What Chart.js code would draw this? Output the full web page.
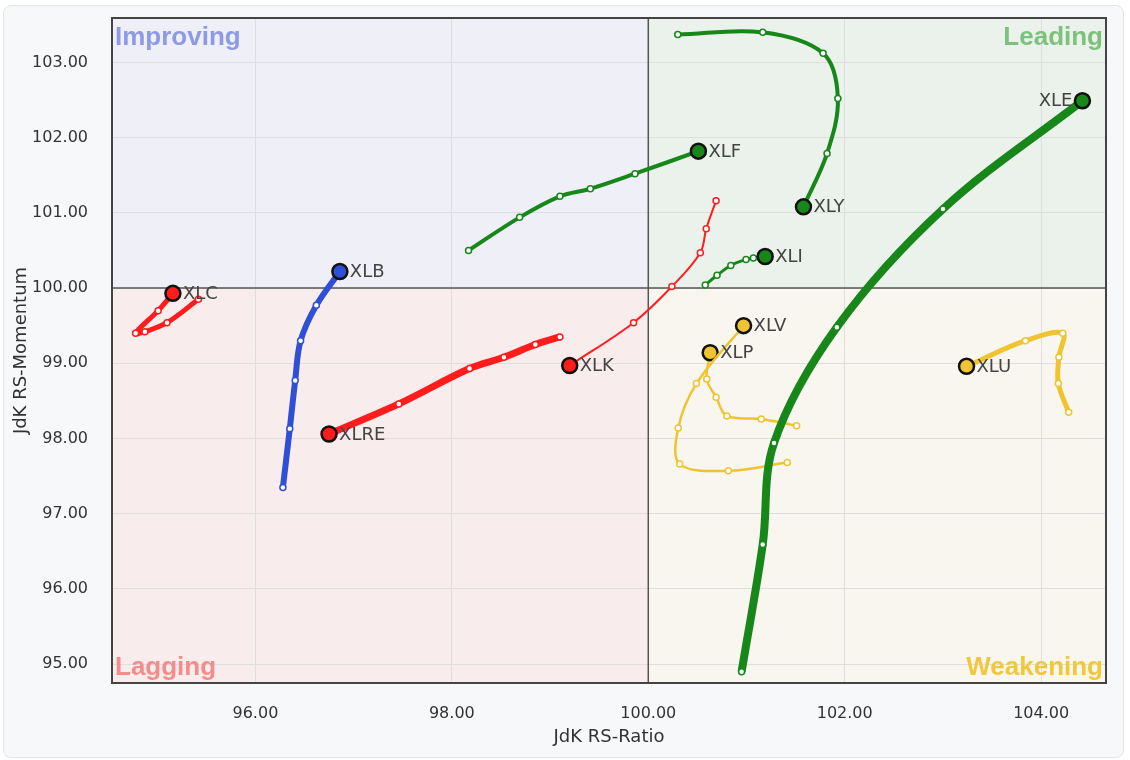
<!DOCTYPE html>
<html><head><meta charset="utf-8">
<script src="https://cdn.jsdelivr.net/npm/chart.js@4.4.0/dist/chart.umd.min.js"></script>
<style>
html,body{margin:0;padding:0;background:#fff;width:1130px;height:760px;overflow:hidden;}
#panel{position:absolute;left:3px;top:5px;width:1119px;height:751px;background:#f7f8fa;border:1px solid #e2e4e8;border-radius:8px;}
#wrap{position:absolute;left:0;top:0;width:1130px;height:760px;}
</style></head><body>
<div id="panel"></div>
<div id="wrap"><canvas id="c" width="1130" height="760"></canvas></div>
<script>
// ---- data (oldest -> newest, last point is the head) ----
const symbols = ['XLE','XLY','XLF','XLI','XLK','XLRE','XLB','XLC','XLV','XLP','XLU'];
const XLE_ratio    = [100.95, 101.165, 101.28, 101.92, 103.00, 104.42];
const XLE_momentum = [94.90, 96.59, 97.94, 99.48, 101.05, 102.49];
const XLY_ratio    = [100.30, 101.165, 101.78, 101.93, 101.82, 101.58];
const XLY_momentum = [103.37, 103.40, 103.12, 102.52, 101.79, 101.08];
const XLF_ratio    = [98.17, 98.69, 99.10, 99.41, 99.865, 100.51];
const XLF_momentum = [100.50, 100.94, 101.22, 101.32, 101.52, 101.82];
const XLI_ratio    = [100.58, 100.70, 100.84, 100.995, 101.07, 101.19];
const XLI_momentum = [100.04, 100.17, 100.30, 100.38, 100.40, 100.42];
const XLK_ratio    = [100.69, 100.59, 100.53, 100.24, 99.85, 99.20];
const XLK_momentum = [101.16, 100.79, 100.47, 100.02, 99.54, 98.97];
const XLRE_ratio   = [99.10, 98.85, 98.53, 98.18, 97.46, 96.75];
const XLRE_momentum= [99.35, 99.25, 99.08, 98.93, 98.46, 98.06];
const XLB_ratio    = [96.28, 96.35, 96.405, 96.46, 96.62, 96.86];
const XLB_momentum = [97.35, 98.13, 98.77, 99.30, 99.77, 100.22];
const XLC_ratio    = [95.42, 95.10, 94.875, 94.78, 95.01, 95.16];
const XLC_momentum = [99.85, 99.54, 99.42, 99.40, 99.70, 99.93];
const XLV_ratio    = [101.415, 100.815, 100.32, 100.305, 100.49, 100.97];
const XLV_momentum = [97.68, 97.57, 97.66, 98.14, 98.73, 99.50];
const XLP_ratio    = [101.51, 101.15, 100.80, 100.69, 100.595, 100.63];
const XLP_momentum = [98.17, 98.26, 98.30, 98.55, 98.79, 99.14];
const XLU_ratio    = [104.28, 104.175, 104.18, 104.22, 103.84, 103.24];
const XLU_momentum = [98.35, 98.73, 99.08, 99.40, 99.30, 98.96];
const tickX = [96, 98, 100, 102, 104];
const tickY = [95, 96, 97, 98, 99, 100, 101, 102, 103];
const quadrantNames = ['Improving', 'Leading', 'Lagging', 'Weakening'];

const series = {
  XLE:[XLE_ratio,XLE_momentum], XLY:[XLY_ratio,XLY_momentum], XLF:[XLF_ratio,XLF_momentum],
  XLI:[XLI_ratio,XLI_momentum], XLK:[XLK_ratio,XLK_momentum], XLRE:[XLRE_ratio,XLRE_momentum],
  XLB:[XLB_ratio,XLB_momentum], XLC:[XLC_ratio,XLC_momentum], XLV:[XLV_ratio,XLV_momentum],
  XLP:[XLP_ratio,XLP_momentum], XLU:[XLU_ratio,XLU_momentum]
};

// ---- styles ----
const GREEN='#17871a', RED='#ff1c1c', BLUE='#2f4fd6', YELLOW='#f0c431';
const style = {
  XLE:{c:GREEN,w:8}, XLY:{c:GREEN,w:4}, XLF:{c:GREEN,w:4}, XLI:{c:GREEN,w:3},
  XLK:{c:RED,w:2}, XLRE:{c:RED,w:7}, XLB:{c:BLUE,w:6}, XLC:{c:RED,w:5},
  XLV:{c:YELLOW,w:2.5}, XLP:{c:YELLOW,w:2.5}, XLU:{c:YELLOW,w:5}
};
const labelLeft = {XLE:true};
const FONT = '"DejaVu Sans", Verdana, sans-serif';
const QFONT = '"Liberation Sans", Arial, sans-serif';

const datasets = symbols.map(s => {
  const [rx, my] = series[s];
  const n = rx.length;
  const st = style[s];
  return {
    label: s,
    data: rx.map((x,i)=>({x:x, y:my[i]})),
    showLine: true,
    borderColor: st.c,
    borderWidth: st.w,
    tension: 0.35,
    pointRadius: rx.map((_,i)=> i===n-1 ? 7.5 : 3),
    pointBackgroundColor: rx.map((_,i)=> i===n-1 ? st.c : '#ffffff'),
    pointBorderColor: rx.map((_,i)=> i===n-1 ? '#111111' : st.c),
    pointBorderWidth: rx.map((_,i)=> i===n-1 ? 2.5 : 1.5),
    clip: false
  };
});

const quadPlugin = {
  id:'quad',
  beforeDraw(chart){
    const {ctx, chartArea:a, scales:{x,y}} = chart;
    const cx = x.getPixelForValue(100), cy = y.getPixelForValue(100);
    ctx.save();
    ctx.fillStyle='#eeeff7'; ctx.fillRect(a.left,a.top,cx-a.left,cy-a.top);
    ctx.fillStyle='#ebf2eb'; ctx.fillRect(cx,a.top,a.right-cx,cy-a.top);
    ctx.fillStyle='#f8ecec'; ctx.fillRect(a.left,cy,cx-a.left,a.bottom-cy);
    ctx.fillStyle='#f8f6ee'; ctx.fillRect(cx,cy,a.right-cx,a.bottom-cy);
    ctx.restore();
  },
  beforeDatasetsDraw(chart){
    const {ctx, chartArea:a, scales:{x,y}} = chart;
    const cx = x.getPixelForValue(100), cy = y.getPixelForValue(100);
    ctx.save();
    ctx.strokeStyle='#555'; ctx.lineWidth=1.5;
    ctx.beginPath(); ctx.moveTo(cx,a.top); ctx.lineTo(cx,a.bottom);
    ctx.moveTo(a.left,cy); ctx.lineTo(a.right,cy); ctx.stroke();
    ctx.strokeStyle='#444'; ctx.lineWidth=2;
    ctx.strokeRect(a.left,a.top,a.right-a.left,a.bottom-a.top);
    ctx.font='bold 26px ' + QFONT;
    ctx.textBaseline='alphabetic';
    ctx.fillStyle='#8e9ae8'; ctx.textAlign='left'; ctx.fillText(quadrantNames[0], a.left+3, a.top+27);
    ctx.fillStyle='#7cc27c'; ctx.textAlign='right'; ctx.fillText(quadrantNames[1], a.right-3, a.top+27);
    ctx.fillStyle='#f48c8c'; ctx.textAlign='left'; ctx.fillText(quadrantNames[2], a.left+3, a.bottom-8);
    ctx.fillStyle='#f0c83c'; ctx.textAlign='right'; ctx.fillText(quadrantNames[3], a.right-3, a.bottom-8);
    ctx.restore();
  },
  afterDatasetsDraw(chart){
    const {ctx} = chart;
    ctx.save();
    ctx.font='18px ' + FONT;
    ctx.fillStyle='#444';
    ctx.textBaseline='middle';
    chart.data.datasets.forEach((ds,i)=>{
      const meta = chart.getDatasetMeta(i);
      const p = meta.data[meta.data.length-1];
      if(labelLeft[ds.label]){ ctx.textAlign='right'; ctx.fillText(ds.label, p.x-10, p.y+1); }
      else { ctx.textAlign='left'; ctx.fillText(ds.label, p.x+10, p.y+1); }
    });
    ctx.restore();
  }
};

const tickFont = {family:FONT, size:16};
new Chart(document.getElementById('c'), {
  type:'scatter',
  data:{datasets},
  plugins:[quadPlugin],
  options:{
    responsive:false, animation:false,
    layout:{padding:{top:18,right:24,left:0,bottom:0}},
    plugins:{legend:{display:false}, tooltip:{enabled:false}},
    scales:{
      x:{
        type:'linear', min:94.54, max:104.66,
        afterBuildTicks:s=>{ s.ticks = tickX.map(v=>({value:v})); },
        afterFit:s=>{ s.height = 77; s.paddingLeft = 0; s.paddingRight = 0; },
        grid:{color:'#dedede', drawTicks:false},
        border:{display:false},
        ticks:{padding:21, color:'#333', font:tickFont, callback:v=>Number(v).toFixed(2)},
        title:{display:true, text:'JdK RS-Ratio', color:'#333', font:{family:FONT, size:18}, padding:{top:0,bottom:12}}
      },
      y:{
        type:'linear', min:94.75, max:103.59,
        afterBuildTicks:s=>{ s.ticks = tickY.map(v=>({value:v})); },
        afterFit:s=>{ s.width = 112; s.paddingTop = 0; s.paddingBottom = 0; },
        grid:{color:'#dedede', drawTicks:false},
        border:{display:false},
        ticks:{padding:24, color:'#333', font:tickFont, callback:v=>Number(v).toFixed(2)},
        title:{display:true, text:'JdK RS-Momentum', color:'#333', font:{family:FONT, size:18}, padding:{top:11,bottom:0}}
      }
    }
  }
});
</script>
</body></html>
